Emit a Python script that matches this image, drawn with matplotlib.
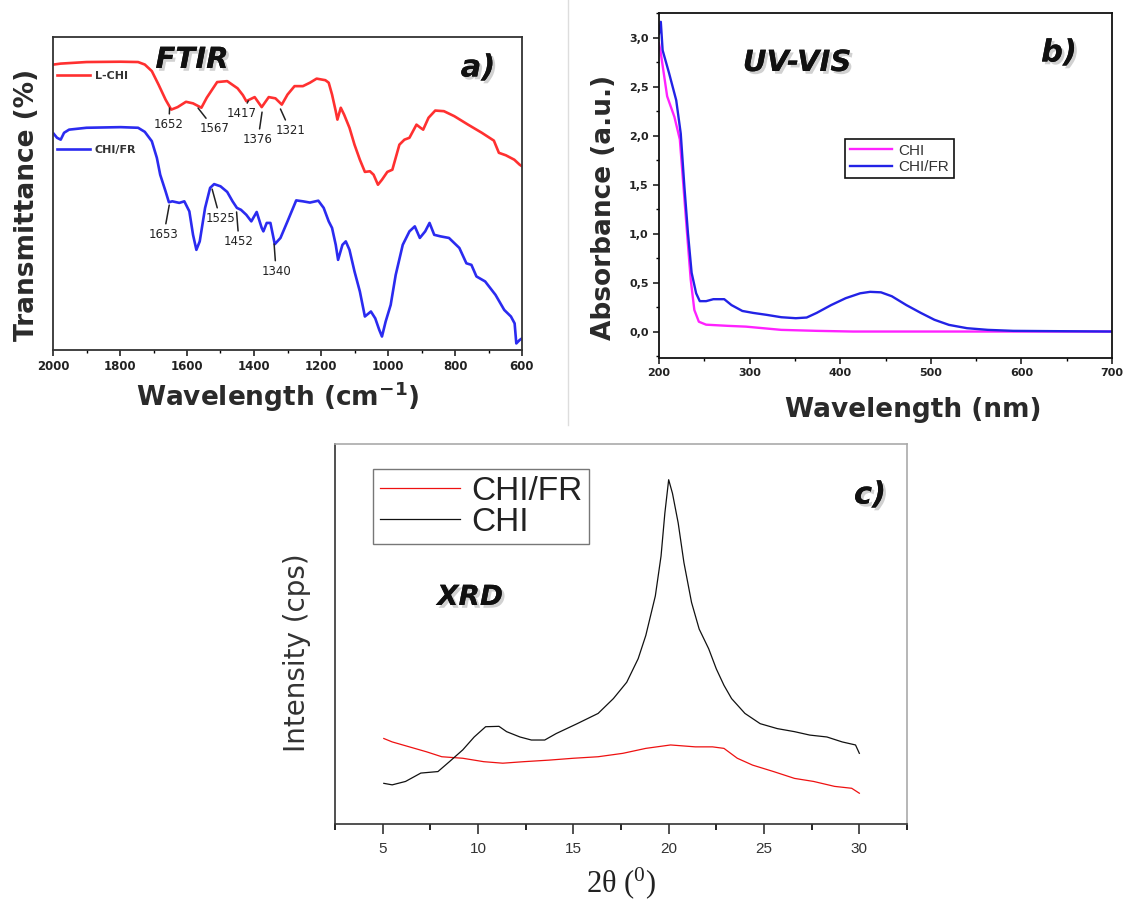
import matplotlib
matplotlib.use('Agg')
import matplotlib.pyplot as plt
import matplotlib.patheffects as pe
from matplotlib.lines import Line2D
from matplotlib.ticker import MultipleLocator, FixedLocator

# ---------------- FTIR data (a) ----------------
ftir_lchi_wn = [1998, 1977, 1900, 1798, 1746, 1726, 1705, 1685, 1664, 1647, 1628, 1603, 1582, 1557,
                1541, 1510, 1480, 1449, 1433, 1423, 1398, 1377, 1356, 1336, 1317, 1300, 1279, 1254,
                1233, 1213, 1187, 1177, 1167, 1156, 1151, 1141, 1131, 1115, 1100, 1084, 1069, 1054,
                1043, 1030, 1018, 1002, 987, 966, 951, 936, 915, 903, 895, 879, 859, 833, 802, 761,
                720, 684, 669, 648, 623, 607, 600]
ftir_lchi_t = [91.2, 91.5, 92.0, 92.1, 92.0, 91.2, 89.1, 84.8, 80.0, 76.8, 77.6, 79.3, 78.8, 77.4,
               80.6, 85.6, 85.9, 83.6, 81.4, 79.5, 80.8, 77.6, 80.8, 80.4, 78.4, 81.6, 84.3, 84.3,
               85.4, 86.7, 86.2, 85.4, 81.6, 76.3, 73.6, 77.4, 75.2, 71.0, 65.6, 60.8, 56.9, 57.1,
               56.0, 52.8, 54.4, 56.9, 57.6, 65.6, 67.2, 67.8, 72.0, 71.0, 70.4, 74.2, 76.5, 76.3,
               74.7, 72.0, 69.4, 66.9, 63.0, 62.2, 60.8, 59.2, 58.7]
ftir_chifr_wn = [1998, 1988, 1977, 1967, 1952, 1900, 1798, 1746, 1726, 1705, 1690, 1680, 1664, 1654,
                 1644, 1623, 1608, 1593, 1582, 1572, 1562, 1546, 1531, 1519, 1500, 1480, 1464, 1451,
                 1439, 1423, 1408, 1392, 1377, 1372, 1362, 1351, 1338, 1321, 1300, 1274, 1254, 1233,
                 1208, 1192, 1177, 1167, 1156, 1149, 1136, 1126, 1115, 1100, 1084, 1069, 1051, 1038,
                 1026, 1018, 1007, 992, 977, 956, 936, 920, 905, 889, 876, 862, 843, 818, 787, 766,
                 751, 736, 710, 679, 653, 633, 622, 617, 607, 600]
ftir_chifr_t = [69.1, 67.8, 67.2, 69.4, 70.4, 71.0, 71.2, 71.0, 69.7, 66.7, 61.4, 56.0, 50.7, 47.2,
                47.5, 47.0, 47.5, 44.3, 36.8, 32.0, 34.7, 45.4, 51.8, 53.0, 52.3, 50.5, 47.5, 45.4,
                44.8, 43.2, 41.1, 44.1, 39.0, 37.9, 40.6, 40.6, 33.8, 35.8, 41.1, 47.8, 47.5, 47.1,
                47.7, 45.4, 41.1, 39.0, 33.6, 28.8, 33.6, 34.7, 32.0, 25.1, 18.7, 10.7, 12.3, 10.1,
                6.4, 4.3, 9.1, 14.4, 24.0, 33.6, 37.9, 39.5, 35.8, 37.9, 40.6, 36.8, 36.3, 35.8, 32.6,
                27.7, 27.2, 23.5, 21.9, 17.6, 12.8, 10.7, 8.5, 2.1, 3.2, 3.7]
ftir_lchi_peaks = [1652, 1567, 1417, 1376, 1321]
ftir_chifr_peaks = [1653, 1525, 1452, 1340]
ftir_xticks = [2000, 1800, 1600, 1400, 1200, 1000, 800, 600]

# ---------------- UV-VIS data (b) ----------------
uv_chi_nm = [200, 202, 209, 217, 223, 227, 231, 235, 239, 244, 252, 276, 296, 335, 374, 414, 500, 600, 700]
uv_chi_abs = [2.94, 2.84, 2.40, 2.19, 1.96, 1.48, 1.00, 0.53, 0.22, 0.10, 0.07, 0.058, 0.05, 0.017,
              0.007, 0.0, 0.0, 0.0, 0.0]
uv_chifr_nm = [200, 202, 204, 211, 219, 224, 228, 232, 236, 241, 245, 252, 260, 272, 280, 292, 304,
               319, 335, 351, 363, 374, 390, 406, 422, 433, 445, 457, 473, 489, 504, 520, 540, 563,
               591, 650, 700]
uv_chifr_abs = [3.04, 3.16, 2.87, 2.64, 2.36, 2.02, 1.48, 1.00, 0.60, 0.39, 0.31, 0.31, 0.33, 0.33,
                0.27, 0.21, 0.19, 0.17, 0.146, 0.136, 0.143, 0.19, 0.27, 0.34, 0.39, 0.405, 0.40,
                0.36, 0.27, 0.19, 0.12, 0.068, 0.034, 0.017, 0.007, 0.003, 0.0]
uv_yticks = [0.0, 0.5, 1.0, 1.5, 2.0, 2.5, 3.0]
uv_yticklabels = ['0,0', '0,5', '1,0', '1,5', '2,0', '2,5', '3,0']

# ---------------- XRD data (c) ----------------
xrd_chi_2t = [5.06, 5.5, 6.2, 7.0, 7.9, 8.5, 9.2, 9.8, 10.4, 11.1, 11.5, 12.2, 12.8, 13.5, 14.1, 15.2,
              16.3, 17.1, 17.8, 18.4, 18.8, 19.3, 19.6, 19.8, 20.0, 20.2, 20.5, 20.8, 21.2, 21.6,
              22.1, 22.5, 22.9, 23.3, 24.0, 24.8, 25.7, 26.6, 27.4, 28.3, 29.1, 29.8, 30.0]
xrd_chi_int = [10.7, 10.3, 11.2, 13.4, 13.8, 16.4, 19.5, 22.9, 25.6, 25.7, 24.3, 22.9, 22.1, 22.1,
               23.8, 26.4, 29.1, 33.0, 37.3, 43.5, 49.6, 60.0, 70.5, 81.8, 90.6, 87.0, 79.2, 68.8,
               58.3, 51.3, 46.1, 40.8, 36.5, 33.0, 29.1, 26.4, 25.1, 24.3, 23.4, 22.9, 21.6, 20.8, 18.6]
xrd_chifr_2t = [5.06, 5.5, 6.4, 7.3, 8.1, 9.2, 10.3, 11.3, 12.4, 13.7, 15.0, 16.3, 17.6, 18.8, 20.1,
                21.4, 22.3, 22.9, 23.6, 24.4, 25.5, 26.6, 27.6, 28.7, 29.6, 30.0]
xrd_chifr_int = [22.5, 21.6, 20.3, 19.0, 17.7, 17.3, 16.4, 16.0, 16.4, 16.8, 17.3, 17.7, 18.6, 19.9,
                 20.8, 20.3, 20.3, 19.9, 17.3, 15.5, 13.8, 12.0, 11.2, 9.9, 9.4, 8.1]
xrd_xticks = [5, 10, 15, 20, 25, 30]

# ---------------- layout helpers ----------------
W, H = 1126, 899
fig = plt.figure(figsize=(W / 100, H / 100), dpi=100)
fig.patch.set_facecolor('white')


def fx(x):
    return x / W


def fy(y):
    return 1 - y / H


def px_axes(l, t, r, b):
    return fig.add_axes([l / W, 1 - b / H, (r - l) / W, (b - t) / H])


shadow = [pe.withSimplePatchShadow(offset=(2, -2), shadow_rgbFace='0.55', alpha=0.4), pe.Normal()]

# faint panel separators
fig.add_artist(Line2D([fx(568), fx(568)], [fy(0), fy(425)], color='#dddddd', lw=1))

# ================= Panel a: FTIR =================
ax_a = px_axes(53, 37, 522, 350)
ax_a.plot(ftir_lchi_wn, ftir_lchi_t, color='#ff3030', lw=1.9)
ax_a.plot(ftir_chifr_wn, ftir_chifr_t, color='#2b2bf0', lw=1.9)
ax_a.set_xlim(2000, 600)
ax_a.set_ylim(0, 100)
ax_a.set_yticks([])
ax_a.xaxis.set_major_locator(FixedLocator(ftir_xticks))
ax_a.xaxis.set_minor_locator(MultipleLocator(100))
ax_a.tick_params(axis='x', which='major', direction='out', length=4, width=1.2, labelsize=8.5,
                 colors='#222222')
ax_a.tick_params(axis='x', which='minor', direction='out', length=2.5, width=1.0)
for lab in ax_a.get_xticklabels():
    lab.set_fontweight('bold')
for s in ax_a.spines.values():
    s.set_color('#333333')
    s.set_linewidth(1.3)

ann_lchi = [(77.3, 1654, 74.1), (77.3, 1519, 72.8), (79.6, 1436, 77.6), (76.0, 1388, 69.3),
            (77.0, 1292, 72.2)]
ann_chifr = [(46.3, 1669, 39.0), (51.4, 1501, 44.1), (44.1, 1445, 36.7), (33.9, 1334, 27.2)]
for peak, (ty, tx, tt) in zip(ftir_lchi_peaks + ftir_chifr_peaks, ann_lchi + ann_chifr):
    ax_a.annotate(str(peak), xy=(peak, ty), xytext=(tx, tt), ha='center', va='top',
                  fontsize=8.5, color='#222222',
                  arrowprops=dict(arrowstyle='-', lw=1.1, color='#222222', shrinkA=1, shrinkB=0))

la_leg1 = ax_a.legend([Line2D([], [], color='#ff3030', lw=1.9)], ['L-CHI'], loc='center left',
                      bbox_to_anchor=(fx(57), fy(76)), bbox_transform=fig.transFigure,
                      frameon=False, handlelength=3, handletextpad=0.4, borderpad=0,
                      borderaxespad=0, prop={'size': 8, 'weight': 'bold'})
for t in la_leg1.get_texts():
    t.set_color('#333333')
ax_a.add_artist(la_leg1)
la_leg2 = ax_a.legend([Line2D([], [], color='#2b2bf0', lw=1.9)], ['CHI/FR'], loc='center left',
                      bbox_to_anchor=(fx(57), fy(150)), bbox_transform=fig.transFigure,
                      frameon=False, handlelength=3, handletextpad=0.4, borderpad=0,
                      borderaxespad=0, prop={'size': 8, 'weight': 'bold'})
for t in la_leg2.get_texts():
    t.set_color('#333333')

fig.text(fx(27), fy(205), 'Transmittance (%)', rotation=90, ha='center', va='center',
         fontsize=19, fontweight='bold', color='#2a2a2a')
fig.text(fx(278), fy(397), r'Wavelength (cm$^{\mathbf{-1}}$)', ha='center', va='center',
         fontsize=19, fontweight='bold', color='#2a2a2a')
fig.text(fx(192), fy(60), 'FTIR', ha='center', va='center', fontsize=21, fontweight='bold',
         fontstyle='italic', color='#111111', path_effects=shadow)
fig.text(fx(478), fy(68), 'a)', ha='center', va='center', fontsize=22, fontweight='bold',
         fontstyle='italic', color='#111111', path_effects=shadow)

# ================= Panel b: UV-VIS =================
ax_b = px_axes(659, 13, 1112, 358)
ln_chi, = ax_b.plot(uv_chi_nm, uv_chi_abs, color='#ff22ff', lw=1.7, label='CHI')
ln_chifr, = ax_b.plot(uv_chifr_nm, uv_chifr_abs, color='#2222e6', lw=1.7, label='CHI/FR')
ax_b.set_xlim(200, 700)
ax_b.set_ylim(-0.27, 3.25)
ax_b.set_yticks(uv_yticks)
ax_b.set_yticklabels(uv_yticklabels)
ax_b.xaxis.set_major_locator(MultipleLocator(100))
ax_b.xaxis.set_minor_locator(MultipleLocator(50))
ax_b.yaxis.set_minor_locator(MultipleLocator(0.25))
ax_b.tick_params(which='major', direction='out', length=4, width=1.2, labelsize=8,
                 colors='#222222')
ax_b.tick_params(which='minor', direction='out', length=2.5, width=1.0)
for lab in ax_b.get_xticklabels() + ax_b.get_yticklabels():
    lab.set_fontweight('bold')
for s in ax_b.spines.values():
    s.set_color('#111111')
    s.set_linewidth(1.3)
leg_b = ax_b.legend(loc='upper left', bbox_to_anchor=(fx(845), fy(139)),
                    bbox_transform=fig.transFigure, fancybox=False, edgecolor='#111111',
                    framealpha=1, handlelength=2.8, handletextpad=0.4, borderpad=0.3,
                    labelspacing=0.15, borderaxespad=0,
                    prop={'family': 'Liberation Sans', 'size': 11})
leg_b.get_frame().set_linewidth(1.2)
for t in leg_b.get_texts():
    t.set_color('#333333')

fig.text(fx(604), fy(207), 'Absorbance (a.u.)', rotation=90, ha='center', va='center',
         fontsize=19, fontweight='bold', color='#2a2a2a')
fig.text(fx(913), fy(410), 'Wavelength (nm)', ha='center', va='center',
         fontsize=19, fontweight='bold', color='#2a2a2a')
fig.text(fx(797), fy(63), 'UV-VIS', ha='center', va='center', fontsize=21, fontweight='bold',
         fontstyle='italic', color='#111111', path_effects=shadow)
fig.text(fx(1059), fy(53), 'b)', ha='center', va='center', fontsize=22, fontweight='bold',
         fontstyle='italic', color='#111111', path_effects=shadow)

# ================= Panel c: XRD =================
ax_c = px_axes(335, 444, 907, 824)
ax_c.plot(xrd_chifr_2t, xrd_chifr_int, color='#ee1111', lw=0.9, label='CHI/FR')
ax_c.plot(xrd_chi_2t, xrd_chi_int, color='#111111', lw=0.9, label='CHI')
ax_c.set_xlim(2.5, 32.5)
ax_c.set_ylim(0, 100)
ax_c.set_yticks([])
ax_c.xaxis.set_major_locator(FixedLocator(xrd_xticks))
ax_c.xaxis.set_minor_locator(FixedLocator([2.5, 7.5, 12.5, 17.5, 22.5, 27.5, 32.5]))
ax_c.tick_params(axis='x', which='major', direction='out', length=7, width=1.2, labelsize=11,
                 colors='#333333', pad=6)
ax_c.tick_params(axis='x', which='minor', direction='out', length=4, width=1.2)
for lab in ax_c.get_xticklabels():
    lab.set_fontfamily('Liberation Sans')
ax_c.spines['left'].set_color('#333333')
ax_c.spines['bottom'].set_color('#333333')
ax_c.spines['top'].set_color('#aaaaaa')
ax_c.spines['right'].set_color('#aaaaaa')
for s in ax_c.spines.values():
    s.set_linewidth(1.2)
leg_c = ax_c.legend(loc='upper left', bbox_to_anchor=(fx(373), fy(469)),
                    bbox_transform=fig.transFigure, fancybox=False, edgecolor='#777777',
                    framealpha=1, handlelength=2.4, handletextpad=0.35, borderpad=0.2,
                    labelspacing=0.0, borderaxespad=0,
                    prop={'family': 'Liberation Sans', 'size': 24})
for t in leg_c.get_texts():
    t.set_color('#222222')

fig.text(fx(297), fy(653), 'Intensity (cps)', rotation=90, ha='center', va='center',
         fontsize=20, color='#333333')
fig.text(fx(621), fy(883), '2θ ($\\mathregular{^{0}}$)', ha='center', va='center',
         fontsize=22, family='Liberation Serif', color='#222222')
fig.text(fx(470), fy(597), 'XRD', ha='center', va='center', fontsize=20, fontweight='bold',
         fontstyle='italic', color='#111111', path_effects=shadow)
fig.text(fx(870), fy(495), 'c)', ha='center', va='center', fontsize=22, fontweight='bold',
         fontstyle='italic', color='#111111', path_effects=shadow)

fig.savefig('out.png', dpi=100, facecolor='white')
